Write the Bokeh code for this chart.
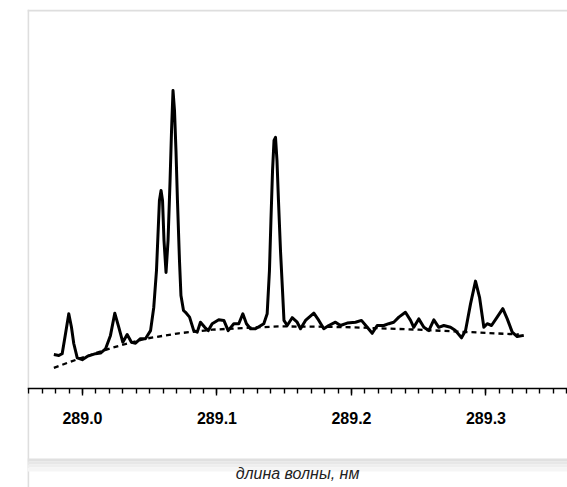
from bokeh.plotting import figure
from bokeh.models import FixedTicker, PrintfTickFormatter, Range1d, Span, BoxAnnotation
from bokeh.embed import file_html
from bokeh.resources import INLINE

# Spectrum (wavelength in nm, intensity in arbitrary units)
wavelength = [288.9787, 288.9824, 288.9849, 288.9874, 288.9898, 288.9918, 288.9935, 288.9961,
              288.9998, 289.0035, 289.0097, 289.0134, 289.0171, 289.0208, 289.0240, 289.0270,
              289.0300, 289.0332, 289.0364, 289.0394, 289.0431, 289.0468, 289.0506, 289.0530,
              289.0550, 289.0561, 289.0572, 289.0584, 289.0595, 289.0606, 289.0621, 289.0636,
              289.0651, 289.0662, 289.0673, 289.0684, 289.0695, 289.0706, 289.0721, 289.0732,
              289.0751, 289.0766, 289.0796, 289.0827, 289.0853, 289.0877, 289.0909, 289.0935,
              289.0964, 289.1013, 289.1051, 289.1083, 289.1125, 289.1162, 289.1192, 289.1219,
              289.1249, 289.1286, 289.1348, 289.1373, 289.1390, 289.1401, 289.1413, 289.1424,
              289.1435, 289.1446, 289.1457, 289.1472, 289.1487, 289.1498, 289.1522, 289.1559,
              289.1596, 289.1621, 289.1658, 289.1720, 289.1757, 289.1794, 289.1831, 289.1881,
              289.1918, 289.1968, 289.2030, 289.2074, 289.2117, 289.2154, 289.2191, 289.2240,
              289.2277, 289.2314, 289.2352, 289.2401, 289.2439, 289.2463, 289.2500, 289.2538,
              289.2575, 289.2612, 289.2649, 289.2686, 289.2736, 289.2773, 289.2818, 289.2848,
              289.2885, 289.2922, 289.2952, 289.2984, 289.3009, 289.3041, 289.3083, 289.3125,
              289.3158, 289.3195, 289.3232, 289.3281]
intensity = [11.3, 11.0, 11.6, 18.3, 24.9, 20.4, 15.0, 10.2,
             9.6, 10.7, 11.6, 11.8, 13.2, 17.7, 25.1, 20.4,
             15.4, 18.0, 15.4, 15.1, 16.6, 16.6, 19.3, 27.1,
             39.3, 51.0, 62.7, 66.0, 62.7, 49.3, 38.7, 49.3,
             69.3, 86.0, 99.3, 92.7, 79.3, 62.7, 42.7, 31.0,
             26.0, 25.4, 23.8, 19.3, 18.8, 22.1, 20.4, 19.3,
             21.6, 22.9, 22.7, 19.3, 21.6, 21.6, 24.9, 21.6,
             19.9, 19.9, 21.6, 24.9, 39.3, 56.0, 72.7, 82.7,
             83.7, 76.0, 62.7, 46.0, 32.7, 22.7, 21.0, 23.6,
             22.1, 19.9, 22.7, 25.1, 22.7, 19.9, 21.0, 22.1,
             21.0, 21.8, 22.1, 22.7, 20.4, 18.4, 21.0, 21.0,
             21.6, 22.1, 23.8, 25.4, 22.7, 20.4, 23.2, 20.4,
             19.3, 22.9, 20.4, 21.0, 20.4, 19.3, 16.9, 19.3,
             28.2, 35.8, 30.4, 20.4, 21.6, 21.0, 23.8, 26.6,
             23.2, 18.8, 17.3, 17.7]

# Background (continuum) estimate, dashed
base_wavelength = [288.9787, 288.9972, 289.0221, 289.0468, 289.0716, 289.0964, 289.1212,
                   289.1459, 289.1757, 289.2005, 289.2500, 289.2872, 289.3244]
base_intensity = [6.9, 9.9, 13.6, 16.6, 18.4, 19.6, 20.2,
                  20.7, 20.6, 20.4, 19.6, 18.8, 18.0]

major_ticks = [289.0, 289.1, 289.2, 289.3]
minor_ticks = [round(288.96 + 0.01 * i, 2) for i in range(41)]
x_label = "длина волны, нм"

p = figure(width=567, height=487, output_backend="svg", toolbar_location=None,
           x_range=Range1d(288.959108, 289.360595), y_range=Range1d(-33.0, 126.33),
           y_axis_location=None, min_border_left=27, min_border_right=0,
           min_border_top=9, min_border_bottom=0, outline_line_color=None,
           background_fill_color="white", border_fill_color="white")
p.grid.visible = False

# frame decoration (light border + shadow band)
p.add_layout(Span(location=288.95963, dimension="height", line_color="#dedede",
                  line_width=2, level="underlay"))
p.add_layout(Span(location=126.0, dimension="width", line_color="#dedede",
                  line_width=2, level="underlay"))
for top, bottom, col in [(-23.3, -24.3, "#e0e0e0"), (-24.3, -25.3, "#e7e7e7"),
                         (-25.3, -26.3, "#eeeeee"), (-26.3, -27.7, "#f5f5f5")]:
    p.add_layout(BoxAnnotation(top=top, bottom=bottom, fill_color=col, fill_alpha=1.0,
                               line_color=None, level="underlay"))

p.line(base_wavelength, base_intensity, line_color="black", line_width=2.3,
       line_dash="5 4")
p.line(wavelength, intensity, line_color="black", line_width=3,
       line_join="round")

ax = p.xaxis[0]
ax.fixed_location = 0
ax.ticker = FixedTicker(ticks=major_ticks, minor_ticks=minor_ticks)
ax.formatter = PrintfTickFormatter(format="%.1f")
ax.axis_line_color = "black"
ax.axis_line_width = 1.6
ax.major_tick_line_color = "black"
ax.major_tick_line_width = 1.4
ax.major_tick_in = 0
ax.major_tick_out = 7
ax.minor_tick_line_color = "black"
ax.minor_tick_line_width = 1.4
ax.minor_tick_in = 0
ax.minor_tick_out = 5
ax.major_label_text_font = "Liberation Sans"
ax.major_label_text_font_style = "bold"
ax.major_label_text_font_size = "16px"
ax.major_label_text_color = "black"
ax.major_label_standoff = 17
ax.axis_label = x_label
ax.axis_label_text_font = "Liberation Sans"
ax.axis_label_text_font_style = "italic"
ax.axis_label_text_font_size = "16px"
ax.axis_label_text_color = "#222222"
ax.axis_label_standoff = 37

open("out.html", "w").write(file_html(p, INLINE))
